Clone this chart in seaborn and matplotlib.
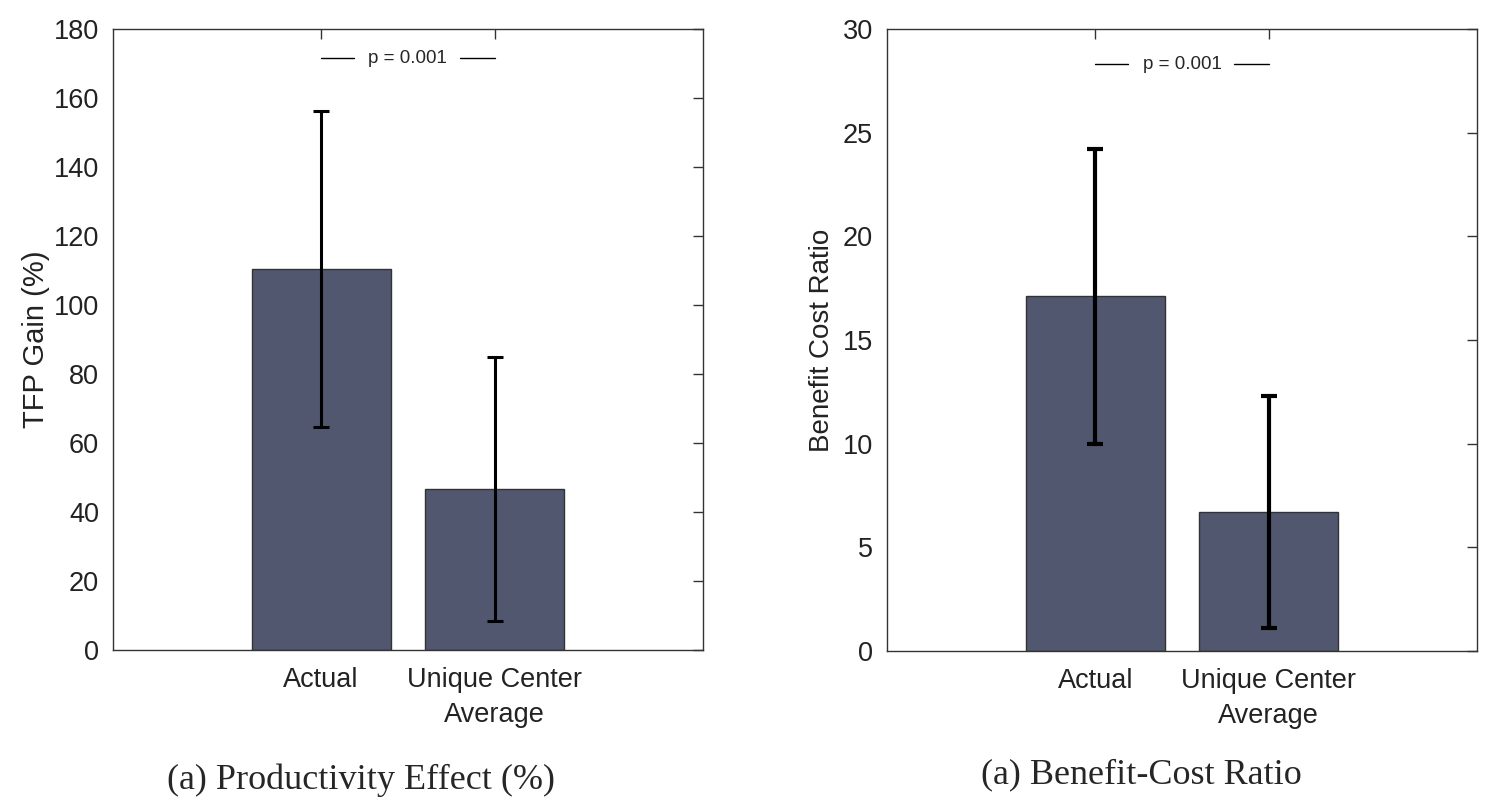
import matplotlib
matplotlib.use("Agg")
import matplotlib.pyplot as plt
import numpy as np
import pandas as pd
import seaborn as sns

# data
categories = ["Actual", "Unique Center\nAverage"]
tfp_gain = [110.3, 46.6]
tfp_low = [64.6, 8.4]
tfp_high = [156.2, 84.8]
bcr = [17.1, 6.7]
bcr_low = [10.0, 1.1]
bcr_high = [24.2, 12.3]
p_text = "p = 0.001"

bar_color = "#50576f"

sns.set_style("white")
plt.rcParams["font.family"] = ["Liberation Sans", "DejaVu Sans"]


def draw_panel(ax, values, low, high, ylim, yticks, ylabel, p_y, lw, lab_size, lab_pad):
    df = pd.DataFrame({"cat": categories, "val": values})
    sns.barplot(data=df, x="cat", y="val", color=bar_color, width=0.8,
                edgecolor="#333333", linewidth=1, saturation=1, errorbar=None, ax=ax)
    vals = np.array(values)
    yerr = [vals - np.array(low), np.array(high) - vals]
    ax.errorbar(range(len(values)), vals, yerr=yerr, fmt="none", ecolor="black",
                elinewidth=lw, capsize=6, capthick=lw, zorder=5)
    ax.set_xlim(-1.2, 2.2)
    ax.set_ylim(*ylim)
    ax.set_yticks(yticks)
    ax.set_xlabel("")
    ax.set_ylabel(ylabel, fontsize=lab_size, labelpad=lab_pad, color="#222222")
    ax.tick_params(axis="both", direction="in", length=7, width=1, color="#333333",
                   top=True, right=True, labelsize=19.5, labelcolor="#222222")
    ax.tick_params(axis="y", pad=10)
    ax.tick_params(axis="x", pad=12)
    for lab in ax.get_xticklabels():
        lab.set_linespacing(1.45)
    for s in ax.spines.values():
        s.set_visible(True)
        s.set_color("#333333")
        s.set_linewidth(1)
    # significance label
    ax.text(0.5, p_y, p_text, ha="center", va="center", fontsize=13.5)
    ax.plot([0, 0.19], [p_y, p_y], color="black", lw=1)
    ax.plot([0.8, 1.0], [p_y, p_y], color="black", lw=1)


fig = plt.figure(figsize=(14.92, 8.05), dpi=100)
ax1 = fig.add_axes([0.0757, 0.1925, 0.3954, 0.7715])
ax2 = fig.add_axes([0.5945, 0.1913, 0.3954, 0.7727])

draw_panel(ax1, tfp_gain, tfp_low, tfp_high, (0, 180), range(0, 181, 20),
           "TFP Gain (%)", 171.5, 2.2, 21, 3)
draw_panel(ax2, bcr, bcr_low, bcr_high, (0, 30), range(0, 31, 5),
           "Benefit Cost Ratio", 28.3, 3.0, 20, 6)

serif = ["Liberation Serif", "DejaVu Serif"]
fig.text(0.242, 0.031, "(a) Productivity Effect (%)", ha="center", va="center",
         fontsize=26, family=serif)
fig.text(0.765, 0.037, "(a) Benefit-Cost Ratio", ha="center", va="center",
         fontsize=26, family=serif)

fig.savefig("out.png", dpi=100)
